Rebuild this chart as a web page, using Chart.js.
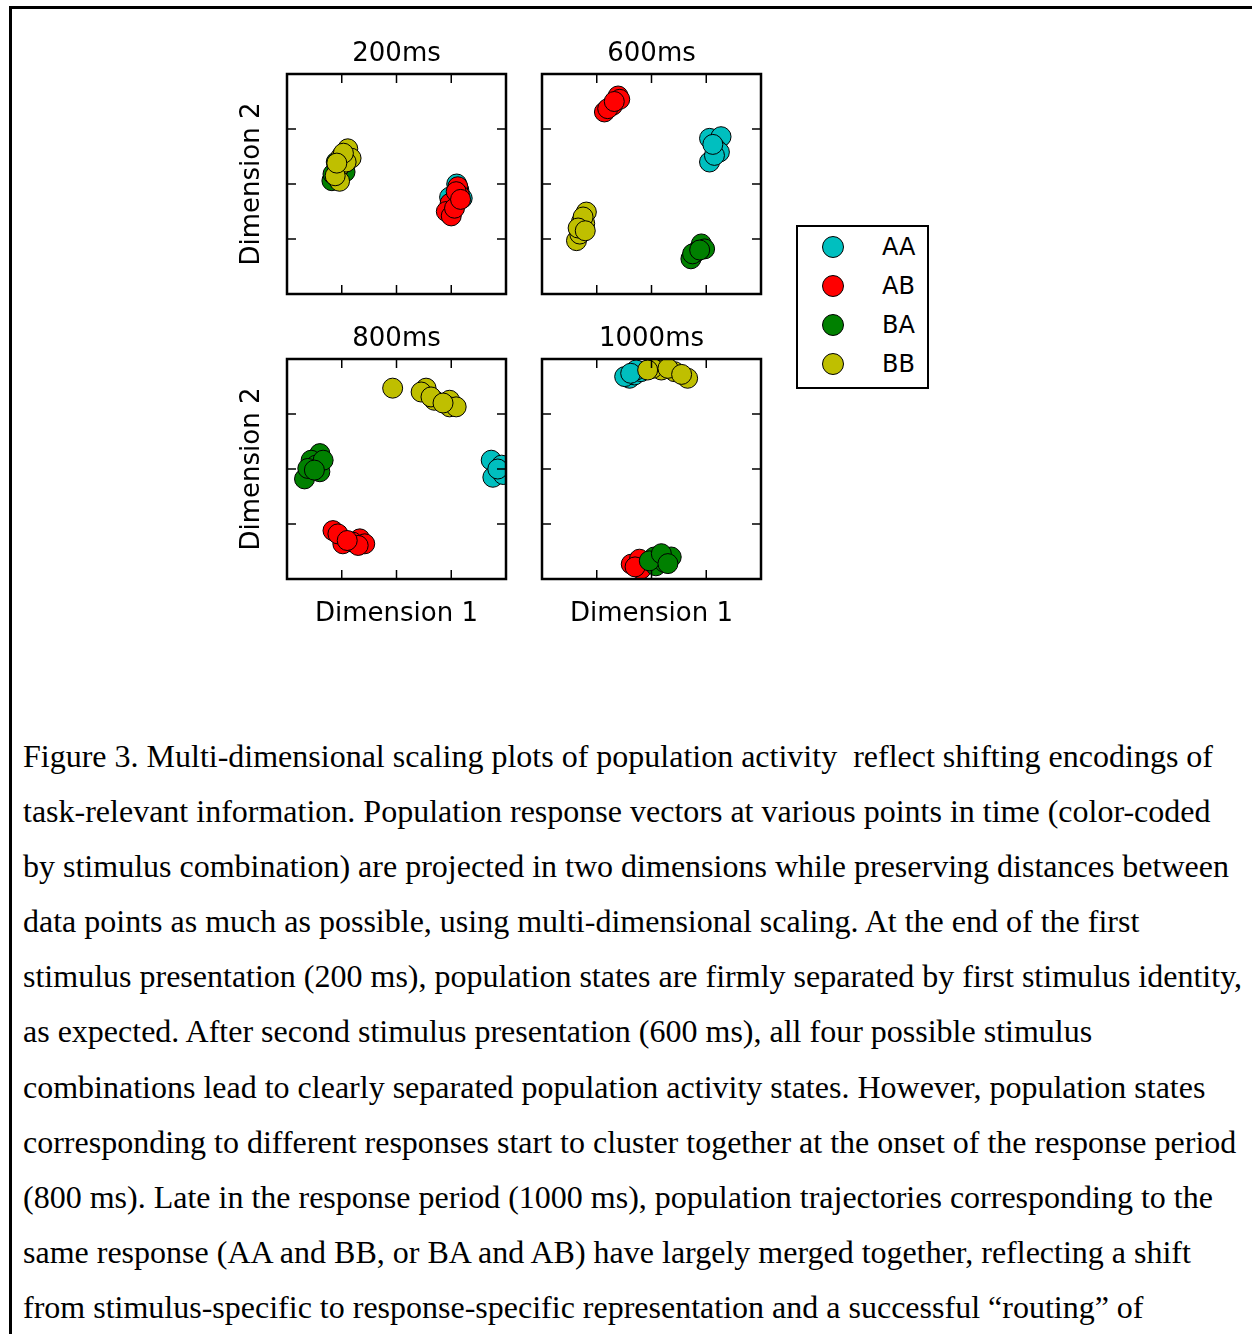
<!DOCTYPE html>
<html>
<head>
<meta charset="utf-8">
<script src="https://cdn.jsdelivr.net/npm/chart.js@4.4.1/dist/chart.umd.min.js"></script>
<style>
  html, body { margin: 0; padding: 0; background: #fff; }
  body { width: 1252px; height: 1334px; position: relative; overflow: hidden; }
  #frameBox { position: absolute; left: 9px; top: 6px; width: 1400px; height: 1500px; border-left: 3px solid #000; border-top: 3px solid #000; }
  canvas.panel { position: absolute; }
  #legend { position: absolute; left: 796px; top: 225px; width: 133px; height: 164px; box-sizing: border-box; border: 2px solid #000; background: #fff; }
  .leg-dot { position: absolute; width: 22px; height: 22px; border-radius: 50%; box-sizing: border-box; border: 1px solid #000; }
  .leg-txt { position: absolute; font-family: 'DejaVu Sans'; font-size: 24px; line-height: 24px; color: #000; }
  #caption { position: absolute; left: 23px; top: 729px; font-family: 'Liberation Serif', 'Times New Roman', serif; font-size: 32px; line-height: 55.1px; color: #000; white-space: pre; }
</style>
</head>
<body>
<div id="frameBox"></div>
<div id="legend"></div>
<div id="caption"></div>
<script>
// categories and panels
const seriesNames = ['AA', 'AB', 'BA', 'BB'];
const seriesColors = ['#00BFBF', '#FF0000', '#008000', '#BFBF00'];
const panelTitles = ['200ms', '600ms', '800ms', '1000ms'];
const tickValues = [1, 2, 3];

// 200ms
const aa200 = [[3.10,2.00],[3.20,1.74],[2.97,1.76],[3.06,1.62],[3.14,1.88]];
const ab200 = [[3.12,1.95],[3.15,1.80],[2.98,1.65],[2.91,1.50],[3.00,1.42],[3.06,1.56],[3.09,1.86],[3.17,1.72]];
const ba200 = [[0.82,2.06],[0.84,2.18],[1.06,2.22],[0.90,2.40],[0.95,2.30]];
const bb200 = [[1.11,2.64],[0.99,2.50],[1.17,2.47],[0.93,2.28],[0.96,2.05],[1.08,2.40],[0.88,2.15],[1.03,2.56],[0.91,2.38]];
// 600ms
const aa600 = [[3.06,2.83],[3.27,2.86],[3.18,2.64],[3.06,2.40],[3.24,2.58],[3.15,2.52],[3.12,2.72]];
const ab600 = [[1.39,3.60],[1.14,3.31],[1.29,3.43],[1.20,3.37],[1.42,3.54],[1.32,3.50]];
const ba600 = [[2.91,0.91],[2.72,0.64],[2.81,0.76],[2.97,0.82],[2.75,0.73],[2.88,0.80]];
const bb600 = [[0.81,1.49],[0.72,1.31],[0.78,1.28],[0.63,0.97],[0.69,1.09],[0.75,1.40],[0.66,1.20],[0.79,1.15]];
// 800ms
const aa800 = [[3.73,2.16],[3.76,1.85],[3.92,2.07],[3.95,1.90],[3.85,2.00]];
const ab800 = [[0.84,0.88],[1.02,0.64],[1.33,0.73],[1.42,0.64],[1.20,0.67],[0.93,0.82],[1.30,0.61],[1.10,0.70]];
const ba800 = [[0.60,2.28],[0.44,2.16],[0.60,1.95],[0.32,1.82],[0.53,2.07],[0.66,2.16],[0.38,2.01],[0.50,1.98]];
const bb800 = [[1.93,3.47],[2.54,3.47],[2.45,3.40],[2.69,3.25],[2.97,3.25],[2.97,3.13],[3.09,3.13],[2.63,3.31],[2.85,3.20]];
// 1000ms
const aa1000 = [[1.60,3.65],[1.69,3.71],[1.81,3.77],[1.51,3.68],[1.72,3.80],[1.62,3.74]];
const ab1000 = [[1.63,0.27],[1.78,0.36],[1.81,0.18],[1.70,0.22]];
const ba1000 = [[2.05,0.40],[2.36,0.40],[2.08,0.24],[2.24,0.30],[1.96,0.33],[2.18,0.46],[2.30,0.28]];
const bb1000 = [[2.18,3.80],[2.42,3.77],[2.66,3.65],[2.02,3.83],[2.30,3.83],[1.93,3.80],[2.55,3.72]];

const panelData = [
  [aa200, ab200, ba200, bb200],
  [aa600, ab600, ba600, bb600],
  [aa800, ab800, ba800, bb800],
  [aa1000, ab1000, ba1000, bb1000]
];

const captionLines = [
  'Figure 3. Multi-dimensional scaling plots of population activity  reflect shifting encodings of',
  'task-relevant information. Population response vectors at various points in time (color-coded',
  'by stimulus combination) are projected in two dimensions while preserving distances between',
  'data points as much as possible, using multi-dimensional scaling. At the end of the first',
  'stimulus presentation (200 ms), population states are firmly separated by first stimulus identity,',
  'as expected. After second stimulus presentation (600 ms), all four possible stimulus',
  'combinations lead to clearly separated population activity states. However, population states',
  'corresponding to different responses start to cluster together at the onset of the response period',
  '(800 ms). Late in the response period (1000 ms), population trajectories corresponding to the',
  'same response (AA and BB, or BA and AB) have largely merged together, reflecting a shift',
  'from stimulus-specific to response-specific representation and a successful \u201crouting\u201d of'
];

// layout of the 2x2 grid
const plotLeft = [287, 542];
const plotTop = [74, 359];
const PLOT = 220;
const M_L = 50, M_T = 45, M_R = 10, M_B = 55;
const TICK = 9;
const labelFont = { family: 'DejaVu Sans', size: 26, weight: 'normal', lineHeight: 1.2 };

// frame + inward ticks on all four sides
const framePlugin = {
  id: 'frame',
  afterDatasetsDraw(chart) {
    const { ctx, chartArea: a, scales: { x, y } } = chart;
    ctx.save();
    ctx.strokeStyle = '#000';
    ctx.lineWidth = 1.5;
    ctx.beginPath();
    tickValues.forEach(v => {
      const px = x.getPixelForValue(v), py = y.getPixelForValue(v);
      ctx.moveTo(px, a.top); ctx.lineTo(px, a.top + TICK);
      ctx.moveTo(px, a.bottom); ctx.lineTo(px, a.bottom - TICK);
      ctx.moveTo(a.left, py); ctx.lineTo(a.left + TICK, py);
      ctx.moveTo(a.right, py); ctx.lineTo(a.right - TICK, py);
    });
    ctx.stroke();
    ctx.lineWidth = 2.5;
    ctx.strokeRect(a.left, a.top, a.right - a.left, a.bottom - a.top);
    ctx.restore();
  }
};

panelTitles.forEach((title, p) => {
  const col = p % 2, row = Math.floor(p / 2);
  const cv = document.createElement('canvas');
  cv.className = 'panel';
  cv.width = M_L + PLOT + M_R;
  cv.height = M_T + PLOT + M_B;
  cv.style.left = (plotLeft[col] - M_L) + 'px';
  cv.style.top = (plotTop[row] - M_T) + 'px';
  document.body.appendChild(cv);

  const showY = col === 0, showX = row === 1;

  new Chart(cv, {
    type: 'scatter',
    data: {
      datasets: seriesNames.map((name, i) => ({
        label: name,
        data: panelData[p][i].map(([x, y]) => ({ x, y })),
        backgroundColor: seriesColors[i],
        borderColor: '#000',
        borderWidth: 1,
        pointRadius: 10,
        pointHoverRadius: 10,
        order: seriesNames.length - 1 - i,
        clip: 0
      }))
    },
    options: {
      responsive: false,
      animation: false,
      devicePixelRatio: 1,
      events: [],
      layout: { padding: { left: showY ? 0 : M_L, right: M_R, top: 0, bottom: showX ? 0 : M_B } },
      plugins: {
        legend: { display: false },
        tooltip: { enabled: false },
        title: {
          display: true, text: title, fullSize: false, color: '#000',
          font: labelFont, padding: { top: 10, bottom: 3.8 }
        }
      },
      scales: {
        x: {
          type: 'linear', min: 0, max: 4,
          ticks: { display: false },
          grid: { display: false, drawTicks: false },
          border: { display: false },
          title: { display: showX, text: 'Dimension 1', color: '#000', font: labelFont, padding: { top: 20, bottom: 3.8 } }
        },
        y: {
          type: 'linear', min: 0, max: 4,
          ticks: { display: false },
          grid: { display: false, drawTicks: false },
          border: { display: false },
          title: { display: showY, text: 'Dimension 2', color: '#000', font: labelFont, padding: { top: 0, bottom: 18.8 } }
        }
      }
    },
    plugins: [framePlugin]
  });
});

// legend box
const legend = document.getElementById('legend');
seriesNames.forEach((name, i) => {
  const cy = 22 + i * 39;
  const dot = document.createElement('div');
  dot.className = 'leg-dot';
  dot.style.background = seriesColors[i];
  dot.style.left = (37 - 11 - 2) + 'px';
  dot.style.top = (cy - 11 - 2) + 'px';
  legend.appendChild(dot);
  const txt = document.createElement('div');
  txt.className = 'leg-txt';
  txt.textContent = name;
  txt.style.left = (86 - 2) + 'px';
  txt.style.top = (cy - 12 - 2) + 'px';
  legend.appendChild(txt);
});

// caption
const caption = document.getElementById('caption');
captionLines.forEach(line => {
  const d = document.createElement('div');
  d.textContent = line;
  caption.appendChild(d);
});
</script>
</body>
</html>
